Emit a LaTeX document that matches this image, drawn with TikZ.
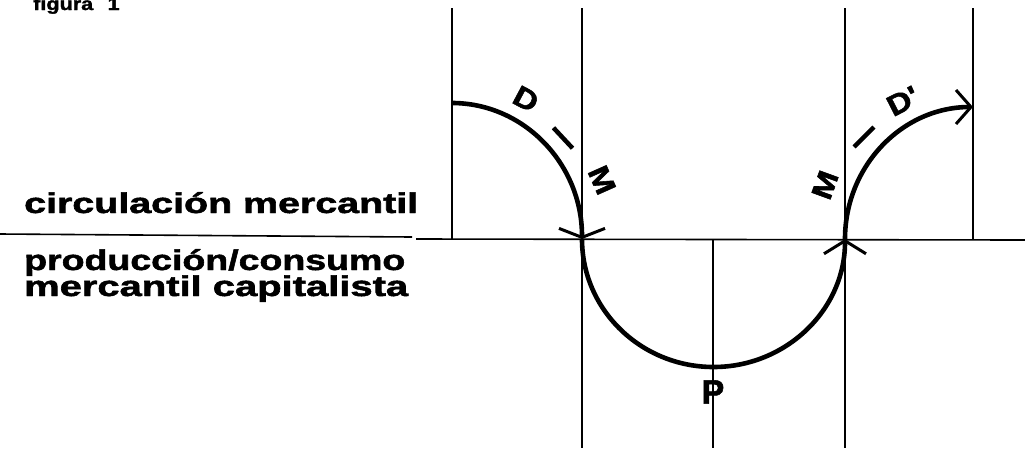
\documentclass[tikz,border=0pt]{standalone}
\usepackage{fontspec}
\setmainfont{Liberation Sans}
\newfontfamily\heavy{Liberation Sans Bold}[FakeBold=1.6]
\usetikzlibrary{arrows.meta}
\begin{document}
\begin{tikzpicture}[x=1pt,y=-1pt,
  guide/.style={line width=1.6pt,black},
  flow/.style={line width=4.6pt,black},
  side/.style={inner sep=0pt,anchor=base west,font=\fontsize{28.5}{28.5}\selectfont\heavy},
  arclbl/.style={inner sep=0pt,font=\fontsize{29}{29}\selectfont\heavy},
  dashlbl/.style={inner sep=0pt}]
\useasboundingbox (0,0) rectangle (1025,448);
% guide lines
\draw[guide] (0,234) -- (412,237);
\draw[guide] (416,239) -- (1025,240);
\draw[guide] (452,8) -- (452,239);
\draw[guide] (582,8) -- (582,448);
\draw[guide] (713,239) -- (713,448);
\draw[guide] (845,8) -- (845,448);
\draw[guide] (973,8) -- (973,240);
% named points on the cycle
\coordinate (A) at (452,103);
\coordinate (B) at (582,239);
\coordinate (C) at (845,239);
\coordinate (E) at (973,107);
% arcs
\draw[flow,-{Straight Barb[length=9pt,width=46pt,line width=3pt]}]
  (A) arc[start angle=-90,end angle=0,x radius=130,y radius=136];
\draw[flow,-{Straight Barb[length=13pt,width=42pt,line width=3pt]}]
  (B) arc[start angle=180,end angle=0,x radius=131.5,y radius=128];
\draw[flow,-{Straight Barb[length=15pt,width=34pt,line width=3pt]}]
  (C) arc[start angle=180,end angle=270,x radius=128,y radius=132];
% arc labels
\node[arclbl,rotate=-28] (d1) at (526,99) {\scalebox{1.15}[1]{D}};
\node[dashlbl,rotate=-47] (h1) at (563,138) {\rule{28pt}{4.5pt}};
\node[arclbl,rotate=-66] (m1) at (602,180) {\scalebox{1.15}[1]{M}};
\node[arclbl,rotate=70] (m2) at (825,185) {\scalebox{1.15}[1]{M}};
\node[dashlbl,rotate=45] (h2) at (864,137) {\rule{28pt}{4.5pt}};
\node[arclbl,rotate=27] (d2) at (903,101) {\scalebox{1.15}[1]{D'}};
\node[inner sep=0pt,font=\fontsize{34}{34}\selectfont\heavy] (p) at (713,392) {P};
% side texts
\node[side] (t1) at (24,213) {\resizebox{394pt}{\height}{circulación mercantil}};
\node[side] (t2) at (24,270) {\resizebox{381pt}{\height}{producción/consumo}};
\node[side] (t3) at (24,296) {\resizebox{384pt}{\height}{mercantil capitalista}};
\node[inner sep=0pt,anchor=base west,font=\fontsize{18}{18}\selectfont\heavy] (fig) at (33,10)
  {\scalebox{1.2}[1]{figura\hspace{12pt}1}};
\end{tikzpicture}
\end{document}
